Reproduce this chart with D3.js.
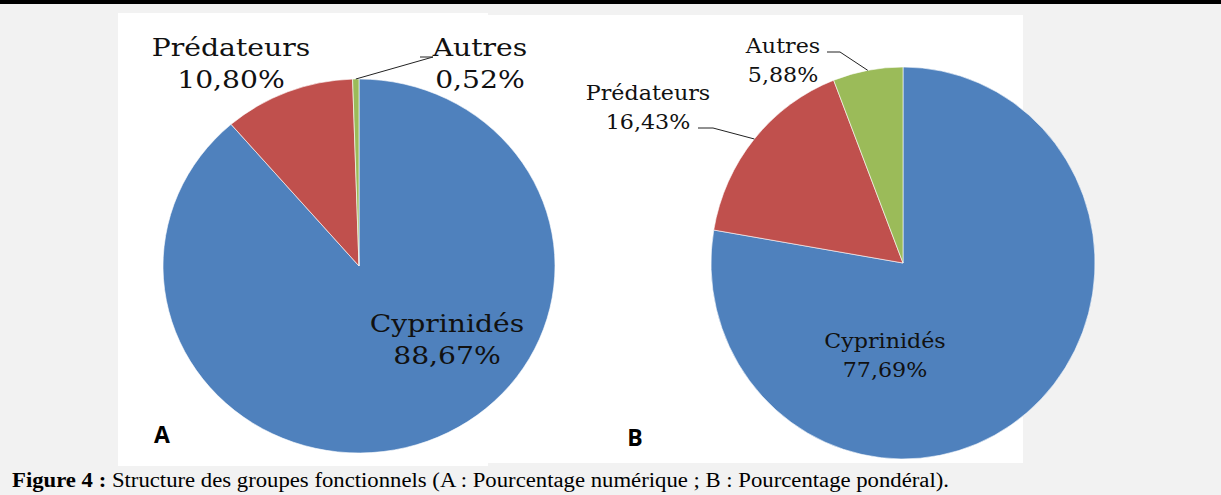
<!DOCTYPE html>
<html lang="fr">
<head>
<meta charset="UTF-8" />
<title>Structure des groupes fonctionnels</title>
<script src="https://d3js.org/d3.v7.min.js"></script>
<style>
    body { margin: 0; background: #f2f2f2; }
    svg { display: block; }
    .lbl { font-family: "DejaVu Serif", serif; fill: #111; }
</style>
</head>
<body>
<svg id="chart"></svg>
<script>
    // data
    const groups = ["Cyprinidés", "Prédateurs", "Autres"];
    const numerique = [88.67, 10.80, 0.52];   // A : pourcentage numérique
    const ponderal = [77.69, 16.43, 5.88];    // B : pourcentage pondéral
    const colors = ["#4f81bd", "#c0504d", "#9bbb59"];

    const width = 1221, height = 495;
    const svg = d3.select("#chart").attr("width", width).attr("height", height);

    const fr = d3.formatLocale({ decimal: ",", thousands: " ", grouping: [3], currency: ["", "€"] });
    const pct = v => fr.format(".2f")(v) + "%";

    const color = d3.scaleOrdinal().domain(groups).range(colors);

    svg.append("rect").attr("width", width).attr("height", height).attr("fill", "#f2f2f2");
    svg.append("rect").attr("width", width).attr("height", 4).attr("fill", "#000");

    // panel layouts (positions only)
    const panels = [
        {
            name: "A", values: numerique,
            box: [118, 13, 370, 453],
            cx: 359, cy: 266, rx: 196, ry: 187,
            fontSize: 25, stretch: 1.13, lineGap: 32,
            letter: [162, 443],
            labels: {
                "Cyprinidés": { x: 447, y: 332 },
                "Prédateurs": { x: 231, y: 56 },
                "Autres": { x: 480, y: 56, leader: [[420, 57], [433, 57]] }
            }
        },
        {
            name: "B", values: ponderal,
            box: [488, 15, 535, 448],
            cx: 903, cy: 263, rx: 192, ry: 196,
            fontSize: 20, stretch: 1.11, lineGap: 29,
            letter: [635, 446],
            labels: {
                "Cyprinidés": { x: 885, y: 348 },
                "Prédateurs": { x: 648, y: 100, leader: [[698, 128], [713, 128]] },
                "Autres": { x: 783, y: 53, leader: [[827, 52], [840, 52]] }
            }
        }
    ];

    const pie = d3.pie().sort(null).value(d => d.value);

    panels.forEach(p => {
        svg.append("rect")
            .attr("x", p.box[0]).attr("y", p.box[1])
            .attr("width", p.box[2]).attr("height", p.box[3])
            .attr("fill", "#fff");
    });

    panels.forEach(p => {
        const data = groups.map((g, i) => ({ group: g, value: p.values[i] }));
        const arcs = pie(data);
        const arc = d3.arc().innerRadius(0).outerRadius(p.ry);

        const g = svg.append("g").attr("transform", `translate(${p.cx},${p.cy})`);

        g.append("g")
            .attr("transform", `scale(${p.rx / p.ry},1)`)
            .selectAll("path")
            .data(arcs)
            .join("path")
            .attr("d", arc)
            .attr("fill", d => color(d.data.group))
            .attr("stroke", "#fff")
            .attr("stroke-width", 0.6);

        // leader lines from the slice's outer edge
        arcs.forEach(d => {
            const L = p.labels[d.data.group];
            if (!L.leader) return;
            const a = (d.startAngle + d.endAngle) / 2;
            const pt = [p.cx + p.rx * Math.sin(a), p.cy - p.ry * Math.cos(a)];
            const pts = [pt, ...L.leader.slice().reverse()];
            svg.append("path")
                .attr("d", d3.line()(pts))
                .attr("fill", "none")
                .attr("stroke", "#222")
                .attr("stroke-width", 1);
        });

        arcs.forEach(d => {
            const L = p.labels[d.data.group];
            const t = svg.append("g")
                .attr("class", "lbl")
                .attr("transform", `translate(${L.x},${L.y}) scale(${p.stretch},1)`)
                .append("text")
                .attr("font-size", p.fontSize)
                .attr("text-anchor", "middle");
            t.append("tspan").attr("x", 0).text(d.data.group);
            t.append("tspan").attr("x", 0).attr("dy", p.lineGap).text(pct(d.data.value));
        });

        svg.append("text")
            .attr("x", p.letter[0]).attr("y", p.letter[1])
            .attr("text-anchor", "middle")
            .attr("font-family", "'Open Sans', 'Liberation Sans', sans-serif")
            .attr("font-weight", "bold")
            .attr("font-size", 23)
            .attr("fill", "#000")
            .text(p.name);
    });

    const cap = svg.append("text")
        .attr("x", 12).attr("y", 487)
        .attr("font-family", "'Liberation Serif', 'Times New Roman', serif")
        .attr("font-size", 20)
        .attr("textLength", 937)
        .attr("lengthAdjust", "spacingAndGlyphs")
        .attr("fill", "#000");
    cap.append("tspan").attr("font-weight", "bold").text("Figure 4 :");
    cap.append("tspan").text(" Structure des groupes fonctionnels (A : Pourcentage numérique ; B : Pourcentage pondéral).");
</script>
</body>
</html>
